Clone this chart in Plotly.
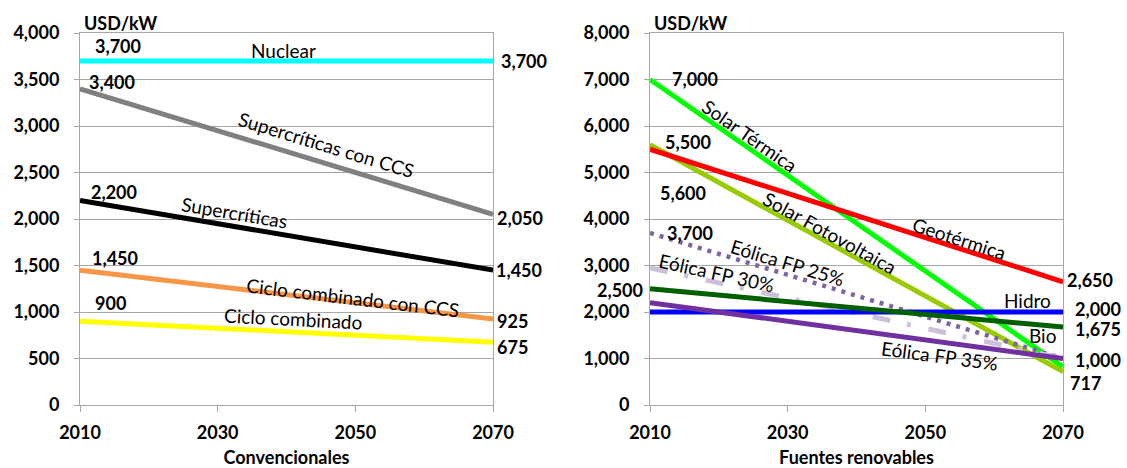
import math
import plotly.graph_objects as go

# ---- data -------------------------------------------------------------
years = [2010, 2070]

conv_names = ["Nuclear", "Supercríticas con CCS", "Supercríticas",
              "Ciclo combinado con CCS", "Ciclo combinado"]
conv_start = [3700, 3400, 2200, 1450, 900]
conv_end = [3700, 2050, 1450, 925, 675]

ren_names = ["Solar Térmica", "Solar Fotovoltaica", "Geotérmica",
             "Eólica FP 25%", "Eólica FP 30%", "Hidro", "Bio", "Eólica FP 35%"]
ren_start = [7000, 5600, 5500, 3700, 2950, 2000, 2500, 2200]
ren_end = [820, 717, 2650, 1000, 1000, 2000, 1675, 1000]

conv_ticks = [0, 500, 1000, 1500, 2000, 2500, 3000, 3500, 4000]
ren_ticks = [0, 1000, 2000, 3000, 4000, 5000, 6000, 7000, 8000]
year_ticks = [2010, 2030, 2050, 2070]

# ---- styles -----------------------------------------------------------
conv_colors = ["#00FFFF", "#808080", "#000000", "#F79646", "#FFFF00"]
ren_colors = ["#00FF00", "#99CC00", "#FF0000", "#8064A2", "#CCC0DA",
              "#0000FF", "#006000", "#7030A0"]
ren_dash = ["solid", "solid", "solid", "4px,6px", "18px,17px,4px,18px",
            "solid", "solid", "solid"]
ren_width = [5, 5, 5, 4.5, 5, 5, 5, 5]

W, H = 1127, 468
PLOT_W, PLOT_H = 413, 372
L1, L2, TOP = 80, 650, 33
FONT = "Lato"
GRID = "#A6A6A6"
BOLD = dict(family=FONT, size=18, color="#000000", weight="bold")
REG = dict(family=FONT, size=19, color="#000000")

fig = go.Figure()

for name, s, e, c in zip(conv_names, conv_start, conv_end, conv_colors):
    fig.add_trace(go.Scatter(x=years, y=[s, e], mode="lines", name=name,
                             line=dict(color=c, width=5), xaxis="x", yaxis="y",
                             showlegend=False, hoverinfo="skip"))
for name, s, e, c, d, w in zip(ren_names, ren_start, ren_end, ren_colors,
                               ren_dash, ren_width):
    fig.add_trace(go.Scatter(x=years, y=[s, e], mode="lines", name=name,
                             line=dict(color=c, width=w, dash=d),
                             xaxis="x2", yaxis="y2",
                             showlegend=False, hoverinfo="skip"))


def slope_angle(s, e, ymax):
    dy = (s - e) / ymax * PLOT_H
    return math.degrees(math.atan2(dy, PLOT_W))


def fmt(v):
    return f"{v:,}"


ann = []

# value labels: (value, axis suffix, year, x shift px, y shift px)
value_labels = [
    (conv_start[0], "", 2010, 38, 15),
    (conv_end[0], "", 2070, 31, 0),
    (conv_start[1], "", 2010, 32, 7),
    (conv_end[1], "", 2070, 27, -4),
    (conv_start[2], "", 2010, 34, 8),
    (conv_end[2], "", 2070, 26, 0),
    (conv_start[3], "", 2010, 35, 12),
    (conv_end[3], "", 2070, 19, -2),
    (conv_start[4], "", 2010, 30, 18),
    (conv_end[4], "", 2070, 19, -5),
    (ren_start[0], "2", 2010, 45, 0),
    (ren_start[2], "2", 2010, 38, 7),
    (ren_start[1], "2", 2010, 33, -48),
    (ren_start[3], "2", 2010, 40, 0),
    (ren_start[6], "2", 2010, -30, -1),
    (ren_end[2], "2", 2070, 27, 2),
    (ren_end[5], "2", 2070, 35, 3),
    (ren_end[6], "2", 2070, 35, -2),
    (ren_end[3], "2", 2070, 35, -1),
    (ren_end[1], "2", 2070, 22, -11),
]
for v, ax, yr, xs, ys in value_labels:
    ann.append(dict(x=yr, y=v, xref="x" + ax, yref="y" + ax, text=fmt(v),
                    showarrow=False, xshift=xs, yshift=ys, font=BOLD))

# series name labels placed along their lines
conv_label_pos = [(2039.6, 3817, False), (2045.7, 2796, True), (2032.5, 2065, True),
                  (2049.7, 1161, True), (2040.9, 925, True)]
for name, s, e, (x, y, rot) in zip(conv_names, conv_start, conv_end, conv_label_pos):
    ann.append(dict(x=x, y=y, xref="x", yref="y", text=name, showarrow=False,
                    textangle=slope_angle(s, e, 4000) if rot else 0, font=REG))

ren_label_pos = [(2024.5, 5806, True), (2036.1, 3720, True), (2055.0, 3591, True),
                 (2030.0, 3075, True), (2019.6, 2860, True), (2064.9, 2258, False),
                 (2067.0, 1484, False), (2052.0, 1075, True)]
for name, s, e, (x, y, rot) in zip(ren_names, ren_start, ren_end, ren_label_pos):
    ann.append(dict(x=x, y=y, xref="x2", yref="y2", text=name, showarrow=False,
                    textangle=slope_angle(s, e, 8000) if rot else 0, font=REG))

# unit labels just above each plot area
for x0 in (L1, L2):
    ann.append(dict(x=(x0 + 40) / W, y=1 - 23 / H, xref="paper", yref="paper",
                    xanchor="center", yanchor="middle",
                    text="USD/kW", showarrow=False, font=BOLD))

fig.update_layout(annotations=ann)

ydom = [1 - (TOP + PLOT_H) / H, 1 - TOP / H]

xcommon = dict(range=[2010, 2070], tickvals=year_ticks, showgrid=False,
               showline=True, linecolor=GRID, linewidth=1, mirror=True,
               ticks="outside", ticklen=6, tickcolor=GRID, tickfont=BOLD,
               ticklabelstandoff=5,
               zeroline=False, fixedrange=True, automargin=False)
ycommon = dict(showgrid=True, gridcolor=GRID, gridwidth=1, showline=True,
               linecolor=GRID, linewidth=1, mirror=True, ticks="outside",
               ticklen=5, tickcolor=GRID, tickformat=",", tickfont=BOLD,
               ticklabelstandoff=11,
               zeroline=False, fixedrange=True, automargin=False)

fig.update_layout(
    width=W, height=H,
    margin=dict(l=0, r=0, t=0, b=0),
    paper_bgcolor="white", plot_bgcolor="white",
    xaxis=dict(domain=[L1 / W, (L1 + PLOT_W) / W], anchor="y",
               title=dict(text="Convencionales", standoff=10, font=BOLD),
               **xcommon),
    yaxis=dict(domain=ydom, anchor="x", range=[0, 4000], tickvals=conv_ticks, **ycommon),
    xaxis2=dict(domain=[L2 / W, (L2 + PLOT_W) / W], anchor="y2",
                title=dict(text="Fuentes renovables", standoff=10, font=BOLD),
                **xcommon),
    yaxis2=dict(domain=ydom, anchor="x2", range=[0, 8000], tickvals=ren_ticks, **ycommon),
)

fig.write_html("out.html")
